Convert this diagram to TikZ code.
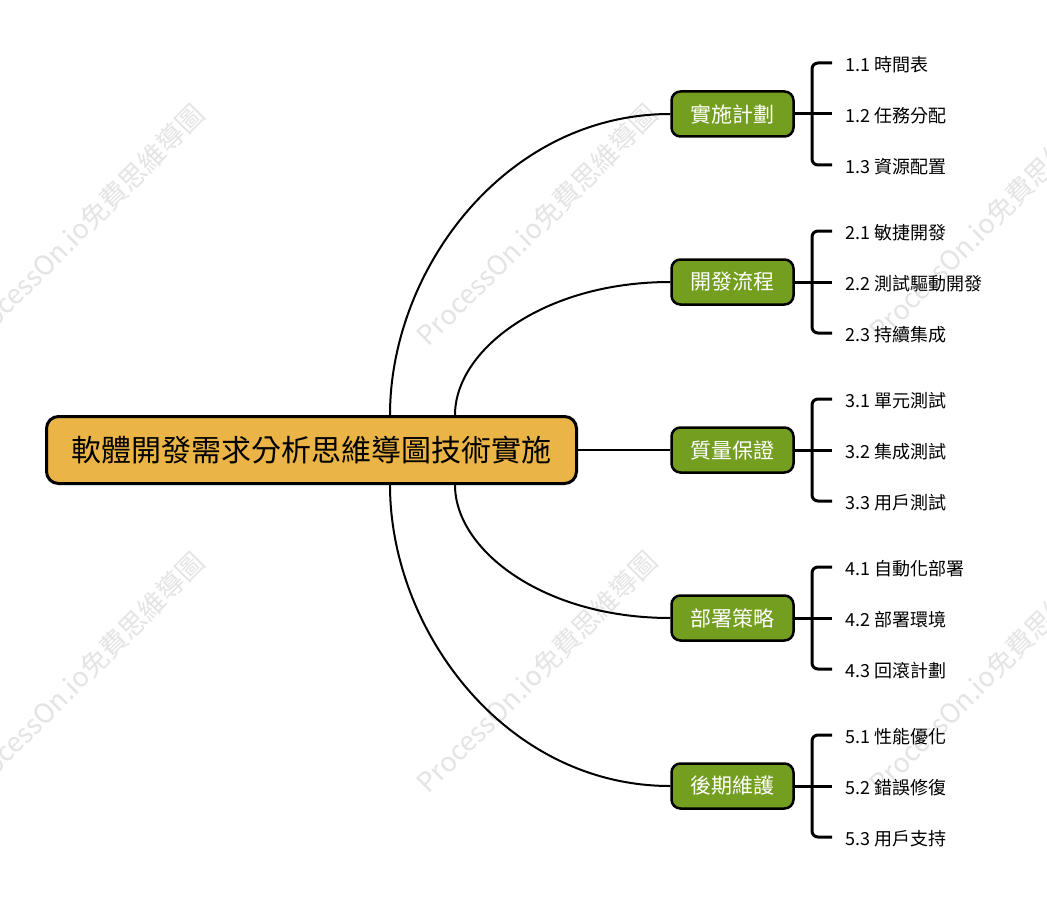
\documentclass[tikz,border=0pt]{standalone}
\usepackage{fontspec}
\setmainfont{Noto Sans CJK TC}
\usetikzlibrary{calc}
\definecolor{rootfill}{HTML}{EBB446}
\definecolor{brfill}{HTML}{749E1F}
\definecolor{wmgray}{HTML}{E4E4E4}
\begin{document}
\begin{tikzpicture}[x=1pt,y=-1pt,
  rootbox/.style={draw=black, line width=3pt, fill=rootfill, rounded corners=12pt,
    minimum width=530pt, minimum height=67pt, inner sep=0pt,
    font=\fontsize{30}{34}\selectfont},
  branch/.style={draw=black, line width=2.5pt, fill=brfill, rounded corners=9pt,
    minimum width=122pt, minimum height=45pt, inner sep=0pt, text=white,
    font=\fontsize{21}{24}\selectfont},
  leaf/.style={anchor=west, inner sep=0pt, font=\fontsize{18}{21}\selectfont},
  link/.style={line width=2pt},
  br/.style={line width=3pt, rounded corners=6pt},
  wmark/.style={text=wmgray, rotate=45, inner sep=0pt, font=\fontsize{27}{30}\selectfont}]
\useasboundingbox (0,0) rectangle (1047,915);
\clip (0,0) rectangle (1047,915);
\fill[white] (0,0) rectangle (1047,915);

% watermarks
\node[wmark] (wm1) at (84,225) {ProcessOn.io免費思維導圖};
\node[wmark] (wm2) at (537,225) {ProcessOn.io免費思維導圖};
\node[wmark] (wm3) at (990,220) {ProcessOn.io免費思維導圖};
\node[wmark] (wm4) at (84,673) {ProcessOn.io免費思維導圖};
\node[wmark] (wm5) at (537,672) {ProcessOn.io免費思維導圖};
\node[wmark] (wm6) at (990,673) {ProcessOn.io免費思維導圖};

% root
\node[rootbox] (root) at (311.5,450) {軟體開發需求分析思維導圖技術實施};

% branches and leaves
\foreach \i/\y/\nm/\la/\lb/\lc in {
  1/114/實施計劃/1.1 時間表/1.2 任務分配/1.3 資源配置,
  2/282/開發流程/2.1 敏捷開發/2.2 測試驅動開發/2.3 持續集成,
  3/450/質量保證/3.1 單元測試/3.2 集成測試/3.3 用戶測試,
  4/618/部署策略/4.1 自動化部署/4.2 部署環境/4.3 回滾計劃,
  5/786/後期維護/5.1 性能優化/5.2 錯誤修復/5.3 用戶支持}{
  \node[branch] (b\i) at (732.5,\y) {\nm};
  \node[leaf] (l\i-1) at (845,\y-49) {\la};
  \node[leaf] (l\i-2) at (845,\y+2) {\lb};
  \node[leaf] (l\i-3) at (845,\y+53) {\lc};
  \coordinate (u\i) at (832,\y-51);
  \coordinate (m\i) at (832,\y);
  \coordinate (d\i) at (832,\y+51);
  \draw[br] (u\i) -- ++(-20,0) -- ++(0,102) -- (d\i);
  \draw[line width=3pt] (b\i.east) -- (m\i);
}

% connectors from root
\draw[link] ([xshift=78.5pt]root.north) .. controls +(0,-145) and +(-165,0) .. (b1.west);
\draw[link] ([xshift=143.5pt]root.north) .. controls +(0,-65) and +(-127,0) .. (b2.west);
\draw[link] (root.east) -- (b3.west);
\draw[link] ([xshift=143.5pt]root.south) .. controls +(0,65) and +(-127,0) .. (b4.west);
\draw[link] ([xshift=78.5pt]root.south) .. controls +(0,145) and +(-165,0) .. (b5.west);
\end{tikzpicture}
\end{document}
